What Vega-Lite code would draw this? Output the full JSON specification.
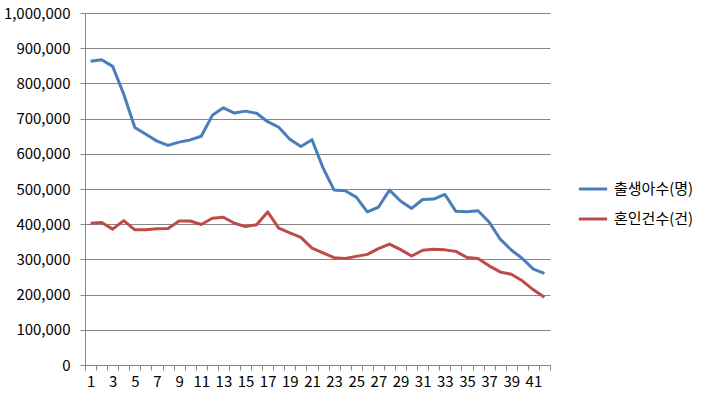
{
  "$schema": "https://vega.github.io/schema/vega-lite/v6.json",
  "width": 465,
  "height": 352,
  "autosize": "none",
  "padding": {"left": 85, "top": 13, "right": 168, "bottom": 38},
  "background": "white",
  "config": {
    "view": {"stroke": null},
    "font": "Noto Sans CJK KR",
    "axis": {"labelFont": "Noto Sans CJK KR", "labelColor": "#000000", "domainColor": "#868686", "tickColor": "#868686", "gridColor": "#868686", "domainWidth": 1, "tickWidth": 1, "gridWidth": 1}
  },
  "datasets": {
    "rows": [
      {"x": 1, "s": "출생아수(명)", "v": 862835}, {"x": 2, "s": "출생아수(명)", "v": 867409}, {"x": 3, "s": "출생아수(명)", "v": 848312}, {"x": 4, "s": "출생아수(명)", "v": 769155}, {"x": 5, "s": "출생아수(명)", "v": 674793}, {"x": 6, "s": "출생아수(명)", "v": 655489}, {"x": 7, "s": "출생아수(명)", "v": 636019}, {"x": 8, "s": "출생아수(명)", "v": 623831}, {"x": 9, "s": "출생아수(명)", "v": 633092}, {"x": 10, "s": "출생아수(명)", "v": 639431}, {"x": 11, "s": "출생아수(명)", "v": 649738}, {"x": 12, "s": "출생아수(명)", "v": 709275}, {"x": 13, "s": "출생아수(명)", "v": 730678}, {"x": 14, "s": "출생아수(명)", "v": 715826}, {"x": 15, "s": "출생아수(명)", "v": 721185}, {"x": 16, "s": "출생아수(명)", "v": 715020}, {"x": 17, "s": "출생아수(명)", "v": 691226}, {"x": 18, "s": "출생아수(명)", "v": 675394}, {"x": 19, "s": "출생아수(명)", "v": 641594}, {"x": 20, "s": "출생아수(명)", "v": 620668}, {"x": 21, "s": "출생아수(명)", "v": 640089}, {"x": 22, "s": "출생아수(명)", "v": 559934}, {"x": 23, "s": "출생아수(명)", "v": 496911}, {"x": 24, "s": "출생아수(명)", "v": 495036}, {"x": 25, "s": "출생아수(명)", "v": 476958}, {"x": 26, "s": "출생아수(명)", "v": 435031}, {"x": 27, "s": "출생아수(명)", "v": 448153}, {"x": 28, "s": "출생아수(명)", "v": 496822}, {"x": 29, "s": "출생아수(명)", "v": 465892}, {"x": 30, "s": "출생아수(명)", "v": 444849}, {"x": 31, "s": "출생아수(명)", "v": 470171}, {"x": 32, "s": "출생아수(명)", "v": 471265}, {"x": 33, "s": "출생아수(명)", "v": 484550}, {"x": 34, "s": "출생아수(명)", "v": 436455}, {"x": 35, "s": "출생아수(명)", "v": 435435}, {"x": 36, "s": "출생아수(명)", "v": 438420}, {"x": 37, "s": "출생아수(명)", "v": 406243}, {"x": 38, "s": "출생아수(명)", "v": 357771}, {"x": 39, "s": "출생아수(명)", "v": 326822}, {"x": 40, "s": "출생아수(명)", "v": 302676}, {"x": 41, "s": "출생아수(명)", "v": 272337}, {"x": 42, "s": "출생아수(명)", "v": 260562},
      {"x": 1, "s": "혼인건수(건)", "v": 403031}, {"x": 2, "s": "혼인건수(건)", "v": 405000}, {"x": 3, "s": "혼인건수(건)", "v": 386000}, {"x": 4, "s": "혼인건수(건)", "v": 410000}, {"x": 5, "s": "혼인건수(건)", "v": 384000}, {"x": 6, "s": "혼인건수(건)", "v": 384000}, {"x": 7, "s": "혼인건수(건)", "v": 387000}, {"x": 8, "s": "혼인건수(건)", "v": 388000}, {"x": 9, "s": "혼인건수(건)", "v": 409000}, {"x": 10, "s": "혼인건수(건)", "v": 409000}, {"x": 11, "s": "혼인건수(건)", "v": 399312}, {"x": 12, "s": "혼인건수(건)", "v": 416872}, {"x": 13, "s": "혼인건수(건)", "v": 419774}, {"x": 14, "s": "혼인건수(건)", "v": 402593}, {"x": 15, "s": "혼인건수(건)", "v": 393121}, {"x": 16, "s": "혼인건수(건)", "v": 398484}, {"x": 17, "s": "혼인건수(건)", "v": 434911}, {"x": 18, "s": "혼인건수(건)", "v": 388960}, {"x": 19, "s": "혼인건수(건)", "v": 375616}, {"x": 20, "s": "혼인건수(건)", "v": 362673}, {"x": 21, "s": "혼인건수(건)", "v": 332090}, {"x": 22, "s": "혼인건수(건)", "v": 318407}, {"x": 23, "s": "혼인건수(건)", "v": 304877}, {"x": 24, "s": "혼인건수(건)", "v": 302503}, {"x": 25, "s": "혼인건수(건)", "v": 308598}, {"x": 26, "s": "혼인건수(건)", "v": 314304}, {"x": 27, "s": "혼인건수(건)", "v": 330634}, {"x": 28, "s": "혼인건수(건)", "v": 343559}, {"x": 29, "s": "혼인건수(건)", "v": 327715}, {"x": 30, "s": "혼인건수(건)", "v": 309759}, {"x": 31, "s": "혼인건수(건)", "v": 326104}, {"x": 32, "s": "혼인건수(건)", "v": 329087}, {"x": 33, "s": "혼인건수(건)", "v": 327073}, {"x": 34, "s": "혼인건수(건)", "v": 322807}, {"x": 35, "s": "혼인건수(건)", "v": 305507}, {"x": 36, "s": "혼인건수(건)", "v": 302828}, {"x": 37, "s": "혼인건수(건)", "v": 281635}, {"x": 38, "s": "혼인건수(건)", "v": 264455}, {"x": 39, "s": "혼인건수(건)", "v": 257622}, {"x": 40, "s": "혼인건수(건)", "v": 239159}, {"x": 41, "s": "혼인건수(건)", "v": 213502}, {"x": 42, "s": "혼인건수(건)", "v": 192507}
    ]
  },
  "data": {"name": "rows"},
  "mark": {"type": "line", "strokeWidth": 3, "strokeJoin": "round", "strokeCap": "butt"},
  "encoding": {
    "x": {
      "field": "x", "type": "ordinal", "title": null,
      "scale": {"type": "band", "paddingInner": 0, "paddingOuter": 0},
      "axis": {"labelAngle": 0, "tickBand": "extent", "tickSize": 5, "labelFontSize": 15, "labelPadding": 4, "grid": false,
        "labelExpr": "datum.value % 2 == 1 ? datum.label : ''", "labelOverlap": false}
    },
    "y": {
      "field": "v", "type": "quantitative", "title": null,
      "scale": {"domain": [0, 1000000], "nice": false},
      "axis": {"values": [0, 100000, 200000, 300000, 400000, 500000, 600000, 700000, 800000, 900000, 1000000], "format": ",d", "tickSize": 5, "labelFontSize": 15, "labelPadding": 10, "grid": true}
    },
    "color": {
      "field": "s", "type": "nominal",
      "scale": {"domain": ["출생아수(명)", "혼인건수(건)"], "range": ["#4A7EBB", "#BE4B48"]},
      "legend": {"title": null, "orient": "none", "legendX": 492, "legendY": 160, "symbolType": "stroke", "symbolSize": 800, "symbolStrokeWidth": 3, "labelFontSize": 15, "labelColor": "#000000", "rowPadding": 6, "labelOffset": 5}
    }
  }
}
